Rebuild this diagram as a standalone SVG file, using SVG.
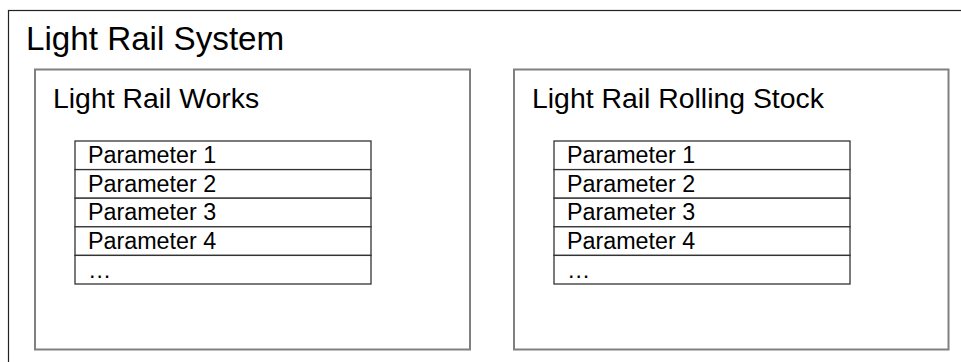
<svg xmlns="http://www.w3.org/2000/svg" width="961" height="362" viewBox="0 0 961 362">
  <style>
    text { font-family: "Liberation Sans", Arial, sans-serif; fill: #000; }
    .sys { font-size: 33.2px; }
    .title { font-size: 28.4px; }
    .param { font-size: 23.3px; }
    .outer { fill: #fff; stroke: #222; stroke-width: 1.2; }
    .panel { fill: #fff; stroke: #808080; stroke-width: 2; }
    .cell { fill: #fff; stroke: #333; stroke-width: 1.3; }
  </style>
  <rect width="961" height="362" fill="#fff"/>

  <!-- System boundary -->
  <g id="light-rail-system">
    <rect class="outer" x="8.5" y="10.5" width="970" height="370"/>
    <text class="sys" x="26" y="50">Light Rail System</text>
  </g>

  <!-- Works subsystem -->
  <g id="light-rail-works">
    <rect class="panel" x="35" y="69.5" width="435" height="280"/>
    <text class="title" x="53" y="107.5">Light Rail Works</text>
    <g id="works-parameters">
      <rect class="cell" x="75" y="141" width="296" height="28.6"/>
      <rect class="cell" x="75" y="169.6" width="296" height="28.6"/>
      <rect class="cell" x="75" y="198.2" width="296" height="28.6"/>
      <rect class="cell" x="75" y="226.8" width="296" height="28.6"/>
      <rect class="cell" x="75" y="255.4" width="296" height="28.6"/>
      <text class="param" x="88" y="163">Parameter 1</text>
      <text class="param" x="88" y="191.5">Parameter 2</text>
      <text class="param" x="88" y="220">Parameter 3</text>
      <text class="param" x="88" y="248.5">Parameter 4</text>
      <text class="param" x="88" y="278">…</text>
    </g>
  </g>

  <!-- Rolling stock subsystem -->
  <g id="light-rail-rolling-stock">
    <rect class="panel" x="514" y="69.5" width="434.5" height="280"/>
    <text class="title" x="532" y="107.5">Light Rail Rolling Stock</text>
    <g id="rolling-stock-parameters">
      <rect class="cell" x="554" y="141" width="296" height="28.6"/>
      <rect class="cell" x="554" y="169.6" width="296" height="28.6"/>
      <rect class="cell" x="554" y="198.2" width="296" height="28.6"/>
      <rect class="cell" x="554" y="226.8" width="296" height="28.6"/>
      <rect class="cell" x="554" y="255.4" width="296" height="28.6"/>
      <text class="param" x="567" y="163">Parameter 1</text>
      <text class="param" x="567" y="191.5">Parameter 2</text>
      <text class="param" x="567" y="220">Parameter 3</text>
      <text class="param" x="567" y="248.5">Parameter 4</text>
      <text class="param" x="567" y="278">…</text>
    </g>
  </g>

  <!-- No connectors in this diagram -->
  <g id="connectors"/>
</svg>
